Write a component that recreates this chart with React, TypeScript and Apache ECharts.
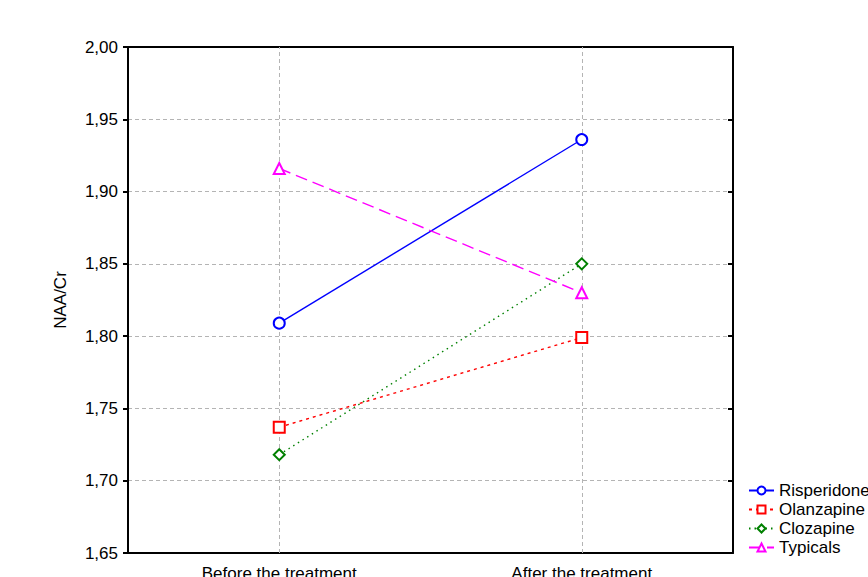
import React, { useEffect, useRef } from "react";
import * as echarts from "echarts";

const categories = ["Before the treatment", "After the treatment"];
const risperidone = [1.809, 1.936];
const olanzapine = [1.737, 1.799];
const clozapine = [1.718, 1.85];
const typicals = [1.916, 1.83];
const yMin = 1.65;
const yMax = 2.0;
const yStep = 0.05;

const FONT = "Liberation Sans, Arial, sans-serif";

export default function App() {
  const ref = useRef<HTMLDivElement>(null);
  useEffect(() => {
    if (!ref.current) return;
    const chart = echarts.init(ref.current, null, { renderer: "svg" });
    const fmt = (v: number) => v.toFixed(2).replace(".", ",");
    const mkSeries = (
      name: string,
      data: number[],
      color: string,
      symbol: string,
      size: number,
      type: any,
      extra: any = {}
    ) => ({
      name,
      type: "line",
      data,
      symbol,
      symbolSize: size,
      lineStyle: { color, width: 1.4, type },
      itemStyle: { color, borderColor: color, borderWidth: 1.4 },
      emphasis: { disabled: true },
      z: 3,
      ...extra,
    });
    chart.setOption({
      animation: false,
      textStyle: { fontFamily: FONT },
      grid: {
        left: 128,
        right: 135,
        top: 47,
        bottom: 24,
        containLabel: false,
        outerBoundsMode: "none",
      },
      legend: {
        orient: "vertical",
        left: 748,
        top: 482,
        padding: 0,
        itemWidth: 25,
        itemHeight: 10,
        itemGap: 2,
        itemTextGap: 6,
        textStyle: { fontSize: 17, color: "#000", fontFamily: FONT },
        data: ["Risperidone", "Olanzapine", "Clozapine", "Typicals"],
      },
      xAxis: [
        {
          type: "category",
          data: categories,
          boundaryGap: true,
          axisLine: { lineStyle: { color: "#000", width: 2 } },
          axisTick: { alignWithLabel: true, inside: true, length: 5, lineStyle: { color: "#000", width: 2 } },
          axisLabel: { color: "#000", fontSize: 17, margin: 12, fontFamily: FONT },
          splitLine: { show: false },
        },
        {
          type: "category",
          data: categories,
          position: "top",
          boundaryGap: true,
          axisLine: { show: true, lineStyle: { color: "#000", width: 2 } },
          axisTick: { show: false },
          axisLabel: { show: false },
          splitLine: { show: false },
        },
      ],
      yAxis: [
        {
          type: "value",
          min: yMin,
          max: yMax,
          interval: yStep,
          name: "NAA/Cr",
          nameLocation: "middle",
          nameRotate: 90,
          nameGap: 59,
          nameTextStyle: { color: "#000", fontSize: 17, fontFamily: FONT },
          axisLine: { show: true, lineStyle: { color: "#000", width: 2 } },
          axisTick: { show: true, length: 5, lineStyle: { color: "#000", width: 2 } },
          axisLabel: { color: "#000", fontSize: 17, margin: 10, formatter: fmt, fontFamily: FONT },
          splitLine: { show: true, lineStyle: { color: "#b4b4b4", width: 1, type: [4, 3] } },
        },
        {
          type: "value",
          min: yMin,
          max: yMax,
          interval: yStep,
          position: "right",
          axisLine: { show: true, lineStyle: { color: "#000", width: 2 } },
          axisTick: { show: true, inside: true, length: 5, lineStyle: { color: "#000", width: 2 } },
          axisLabel: { show: false },
          splitLine: { show: false },
        },
      ],
      series: [
        mkSeries("Risperidone", risperidone, "#0000ff", "emptyCircle", 11, "solid", {
          markLine: {
            silent: true,
            symbol: "none",
            label: { show: false },
            lineStyle: { color: "#b4b4b4", width: 1, type: [4, 3] },
            data: categories.map((c) => ({ xAxis: c })),
            z: 1,
          },
        }),
        mkSeries("Olanzapine", olanzapine, "#ff0000", "emptyRect", 11, [3, 4]),
        mkSeries("Clozapine", clozapine, "#008000", "emptyDiamond", 11, [1.5, 4]),
        mkSeries("Typicals", typicals, "#ff00ff", "emptyTriangle", 11, [12, 6]),
      ],
    });
    return () => chart.dispose();
  }, []);
  return (
    <div
      ref={ref}
      style={{ position: "absolute", left: 0, top: 0, width: 868, height: 577, overflow: "hidden" }}
    />
  );
}
